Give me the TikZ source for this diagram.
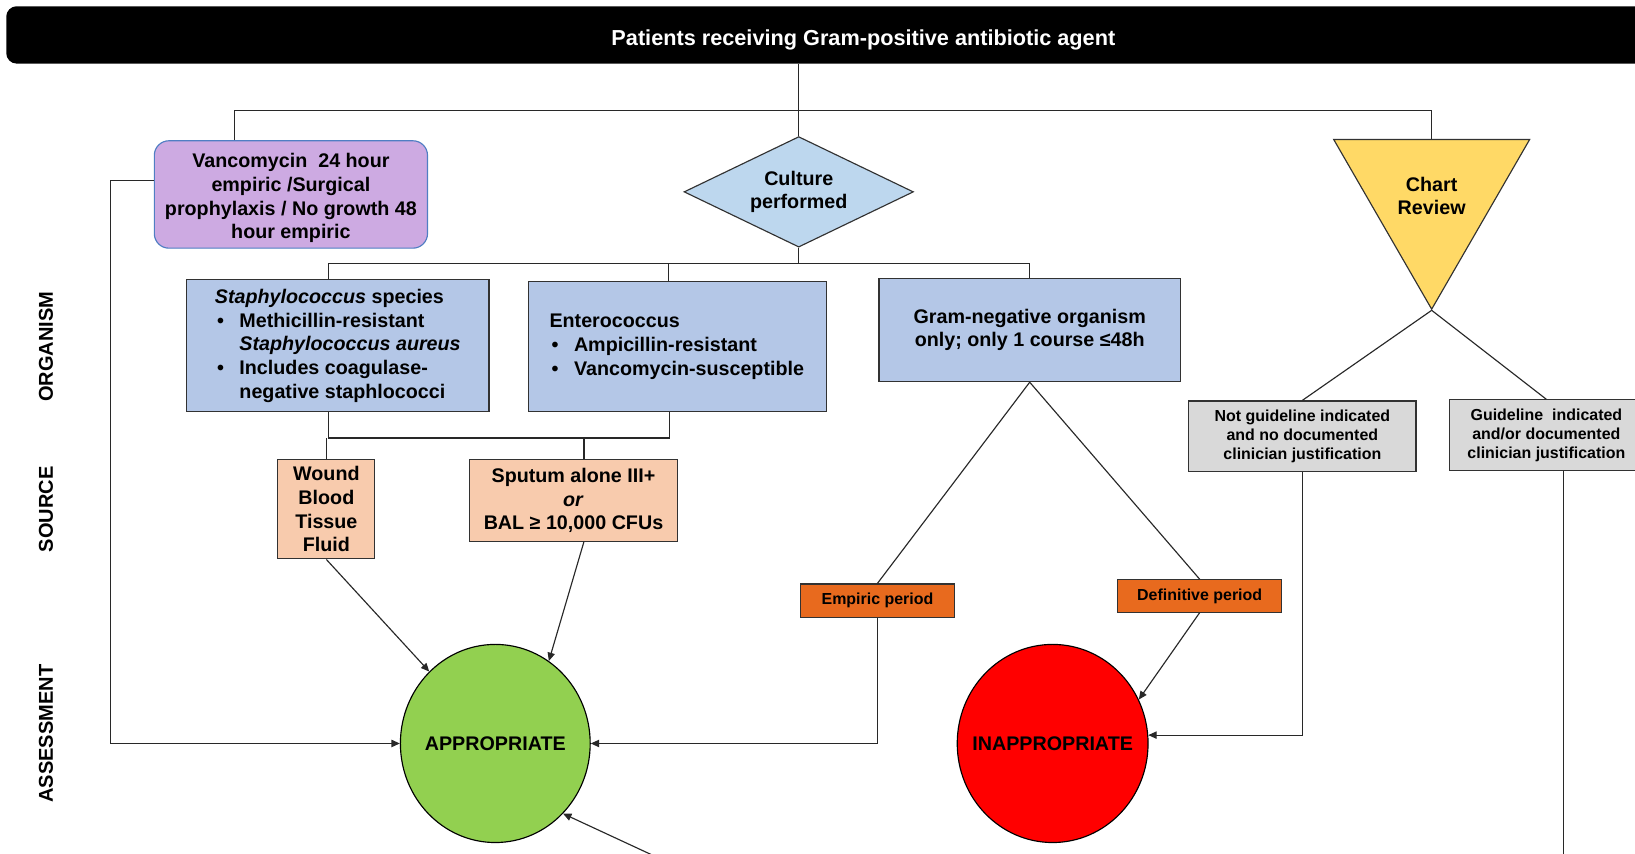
\documentclass[tikz,border=0pt]{standalone}
\usepackage{fontspec}
\setmainfont{Liberation Sans}
\usepackage{tikz}
\usetikzlibrary{positioning,arrows.meta,shapes.geometric}

\newcommand{\ftitle}{\fontsize{20.8}{25}\selectfont\bfseries}
\newcommand{\fbody}{\fontsize{18.9}{22.7}\selectfont\bfseries}
\newcommand{\fsmall}{\fontsize{15.3}{18}\selectfont\bfseries}
\newcommand{\fside}{\fontsize{19.2}{23}\selectfont\bfseries}
\newcommand{\blt}{\hspace*{2pt}\makebox[21.5pt][l]{\textbullet}}
\newcommand{\bind}{\hspace*{23.5pt}}

\begin{document}
\begin{tikzpicture}
	[x=1pt,y=-1pt,
	ln/.style={line width=1.1pt,draw={rgb, 255:red, 40; green, 40; blue, 40}},
	box/.style={rectangle,draw={rgb, 255:red, 50; green, 50; blue, 50},line width=1.1pt,inner sep=0pt,font=\fbody},
	sbox/.style={box,font=\fsmall},
	rnd/.style={ellipse,draw=black,line width=1.1pt,inner sep=0pt,font=\fbody,minimum width=182,minimum height=190},
	side/.style={rotate=90,font=\fside},
	>={Triangle[length=8pt,width=7pt]}]
	\path[use as bounding box] (0,0) rectangle (1568,819);
	\clip (0,0) rectangle (1568,819);
	%LEVEL 0
	\node[rectangle,rounded corners=10pt,fill=black,text=white,font=\ftitle,text height=19.5pt,text depth=0pt,
	minimum width=1644,minimum height=55] (title) at (828,33.5) {Patients receiving Gram-positive antibiotic agent};
	\node[side] (lorg) at (44,332.5) {ORGANISM};
	\node[side] (lsrc) at (44,488.5) {SOURCE};
	\node[side] (lass) at (44,703.5) {ASSESSMENT};
	%LEVEL 1
	\node[box,rounded corners=14pt,align=center,minimum width=262,minimum height=103,
	fill={rgb, 255:red, 205; green, 170; blue, 226},draw={rgb, 255:red, 80; green, 126; blue, 195}] (vanc) at (279,186.5)
	{\rule{0pt}{21pt}Vancomycin\ \ 24 hour\\empiric /Surgical\\prophylaxis / No growth 48\\hour empiric};
	\node[box,diamond,aspect=2.07,align=center,minimum width=220,minimum height=106,
	fill={rgb, 255:red, 189; green, 215; blue, 238}] (cult) at (766,184) {Culture\\performed};
	\node[box,regular polygon,regular polygon sides=3,shape border rotate=180,minimum size=217,align=center,
	fill={rgb, 255:red, 255; green, 217; blue, 102}] (chart) at (1373,188) {Chart\\Review};
	\coordinate (top) at (765,106);
	\path[ln] (title.south -| cult.north) edge (cult.north);
	\draw[ln] ([xshift=-54]vanc.north) |- (top) -| (chart.center |- chart.corner 2);
	%LEVEL 2
	\node[box,align=left,minimum width=290,minimum height=127,
	fill={rgb, 255:red, 180; green, 199; blue, 231}] (staph) at (324,331.5)
	{\textit{Staphylococcus} species\\
	\blt Methicillin-resistant\\
	\bind\textit{Staphylococcus aureus}\\
	\blt Includes coagulase-\\
	\bind negative staphlococci};
	\node[box,align=left,text width=246,inner xsep=20,minimum height=125,
	fill={rgb, 255:red, 180; green, 199; blue, 231}] (entero) at (650,332.5)
	{Enterococcus\\
	\blt Ampicillin-resistant\\
	\blt Vancomycin-susceptible\\[4pt]};
	\node[box,align=center,minimum width=289,minimum height=99,
	fill={rgb, 255:red, 180; green, 199; blue, 231}] (gneg) at (987.5,316.5)
	{Gram-negative organism\\only;\ only 1 course ≤48h};
	\coordinate (mid) at (766,253);
	\path[ln] (cult.south) edge (mid);
	\draw[ln] ([xshift=-9]staph.north) |- (mid) -| (gneg.north);
	\path[ln] ([xshift=-9]entero.north) edge ([xshift=-9]entero.north |- mid);
	%LEVEL 3
	\node[box,align=center,minimum width=93,minimum height=95,
	fill={rgb, 255:red, 248; green, 203; blue, 173}] (wound) at (313,488.5) {Wound\\Blood\\Tissue\\Fluid};
	\node[box,align=center,minimum width=200,minimum height=78,
	fill={rgb, 255:red, 248; green, 203; blue, 173}] (sput) at (550,480) {Sputum alone III+\\\textit{or}\\BAL ≥ 10,000 CFUs};
	\node[sbox,minimum width=147,minimum height=32,
	fill={rgb, 255:red, 232; green, 106; blue, 30}] (emp) at (841.5,576) {Empiric period};
	\node[sbox,minimum width=157,minimum height=31,
	fill={rgb, 255:red, 232; green, 106; blue, 30}] (defn) at (1150.5,571.5) {Definitive period};
	\node[sbox,align=center,minimum width=218,minimum height=68,
	fill={rgb, 255:red, 217; green, 217; blue, 217}] (notg) at (1249,418.5)
	{Not guideline indicated\\and no documented\\clinician justification};
	\node[sbox,align=center,minimum width=186,minimum height=68,
	fill={rgb, 255:red, 217; green, 217; blue, 217}] (gind) at (1483,417.5)
	{Guideline\ \ indicated\\and/or documented\\clinician justification};
	\coordinate (low) at (560,420);
	\draw[ln] ([xshift=-9]staph.south) |- ([xshift=-8]entero.south |- low) -- ([xshift=-8]entero.south);
	\path[ln] (wound.north) edge (wound.north |- low);
	\path[ln] ([xshift=10]sput.north) edge ([xshift=10]sput.north |- low);
	\path[ln] (gneg.south) edge (emp.north);
	\path[ln] (gneg.south) edge (defn.north);
	\path[ln] (chart.corner 1) edge (notg.north);
	\path[ln] (chart.corner 1) edge (gind.north);
	%LEVEL 4
	\node[rnd,fill={rgb, 255:red, 146; green, 208; blue, 80}] (app) at (475,713) {\makebox[0pt]{APPROPRIATE}};
	\node[rnd,minimum width=183,fill={rgb, 255:red, 255; green, 0; blue, 0}] (inapp) at (1009.5,713) {\makebox[0pt]{INAPPROPRIATE}};
	\coordinate (lft) at (106,713);
	\coordinate (botin) at (632,823);
	\coordinate (gout) at (1499,823);
	\draw[ln,->] ([yshift=13]vanc.west) -| (lft) -- (app.west);
	\draw[ln,->] (wound.south) -- (app);
	\draw[ln,->] ([xshift=10]sput.south) -- (app.57);
	\draw[ln,->] (botin) -- (app.-46);
	\draw[ln,->] (emp.south) |- (app.east);
	\draw[ln,->] (defn.south) -- (inapp.27);
	\draw[ln,->] (notg.south) |- (inapp.5);
	\path[ln] (gout |- gind.south) edge (gout);
\end{tikzpicture}
\end{document}
